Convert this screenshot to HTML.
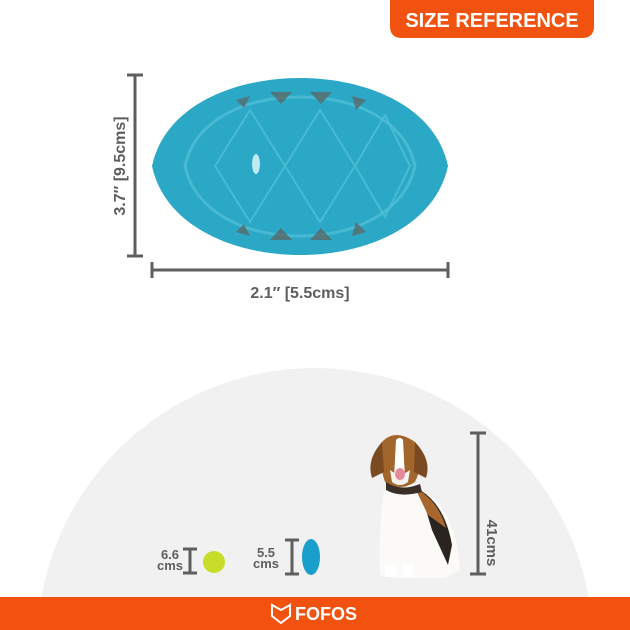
<!DOCTYPE html><html><head><style>html,body{margin:0;width:630px;height:630px;overflow:hidden}svg{display:block}text{font-family:"Liberation Sans",sans-serif;font-weight:bold}</style></head><body>
<svg width="630" height="630" viewBox="0 0 630 630" xmlns="http://www.w3.org/2000/svg">
<rect width="630" height="630" fill="#fff"/>
<circle cx="315" cy="646" r="278" fill="#f1f1f1"/>
<path d="M390 0H594V26Q594 38 582 38H402Q390 38 390 26Z" fill="#f2520f"/>
<text x="492" y="27" font-size="20" fill="#fff" text-anchor="middle">SIZE REFERENCE</text>
<path d="M152 166C165 105 235 78 300 78C365 78 435 105 448 166C435 227 365 255 300 255C235 255 165 227 152 166Z" fill="#2aa8c6"/>
<path d="M185 166C195 120 245 97 300 97C355 97 405 120 415 166C405 212 355 236 300 236C245 236 195 212 185 166Z" fill="none" stroke="#5cc4dc" stroke-width="3" opacity=".6"/>
<g fill="#5a6a6a" opacity=".8"><path d="M236 100l14 -4 -6 12z"/><path d="M270 92l22 0 -11 12z"/><path d="M310 92l22 0 -11 12z"/><path d="M352 96l14 4 -10 10z"/>
<path d="M236 232l14 4 -6 -12z"/><path d="M270 240l22 0 -11 -12z"/><path d="M310 240l22 0 -11 -12z"/><path d="M352 236l14 -4 -10 -10z"/></g>
<g stroke="#4fbfd8" stroke-width="2" fill="none" opacity=".8"><path d="M215 166L250 110 285 166 250 222Z"/><path d="M285 166L320 110 355 166 320 222Z"/><path d="M355 166L385 115 410 166 385 217Z"/></g>
<ellipse cx="256" cy="164" rx="4" ry="10" fill="#bfeaf3"/>
<g stroke="#5e5e5e" stroke-width="3" fill="none"><path d="M135 75V256M127 75H143M127 256H143"/><path d="M152 270H448M152 262V278M448 262V278"/>
<path d="M478 433V574M470 433H486M470 574H486"/><path d="M190 549V573M183 549H197M183 573H197"/><path d="M292 540V574M285 540H299M285 574H299"/></g>
<g fill="#5e5e5e"><text x="300" y="298" font-size="16" text-anchor="middle">2.1″ [5.5cms]</text>
<text transform="translate(125 166) rotate(-90)" font-size="16" text-anchor="middle">3.7″ [9.5cms]</text>
<text transform="translate(487 543) rotate(90)" font-size="15" text-anchor="middle">41cms</text>
<text x="170" y="559" font-size="13" text-anchor="middle">6.6</text><text x="170" y="570" font-size="13" text-anchor="middle">cms</text>
<text x="266" y="557" font-size="13" text-anchor="middle">5.5</text><text x="266" y="568" font-size="13" text-anchor="middle">cms</text></g>
<circle cx="214" cy="562" r="11" fill="#c8dc2a"/>
<ellipse cx="311" cy="557" rx="9" ry="18" fill="#1a9fcc"/>
<g><path d="M384 490Q378 530 380 575L395 578L445 578L460 570Q458 530 440 505Q425 490 410 485Z" fill="#fbfaf7"/>
<path d="M420 490Q445 505 452 545L448 565L432 530Z" fill="#2a2420"/>
<path d="M415 488Q438 500 446 528L428 515Z" fill="#a8672e"/>
<path d="M382 442Q395 428 415 442Q425 462 415 482Q400 492 385 482Q378 462 382 442Z" fill="#a2652c"/>
<path d="M382 442Q366 460 372 478L384 472Z" fill="#7c4a20"/><path d="M415 442Q432 460 426 478L414 472Z" fill="#7c4a20"/>
<path d="M396 440Q400 436 403 440L405 478L394 478Z" fill="#fff"/>
<path d="M390 470Q400 478 410 470L408 482Q400 488 392 482Z" fill="#f4f2ee"/>
<ellipse cx="400" cy="474" rx="5" ry="6" fill="#e48a9a"/>
<path d="M386 482Q400 492 420 484L422 492Q400 498 386 490Z" fill="#3a2e28"/>
<path d="M385 565h12v12h-12zM402 565h12v12h-12z" fill="#fff"/></g>
<rect x="0" y="597" width="630" height="33" fill="#f2520f"/>
<path d="M272 605L281 610L290 605L290 616L281 623L272 616Z" fill="none" stroke="#fff" stroke-width="2"/>
<text x="295" y="620" font-size="18" fill="#fff" font-weight="normal">FOFOS</text>
</svg></body></html>
